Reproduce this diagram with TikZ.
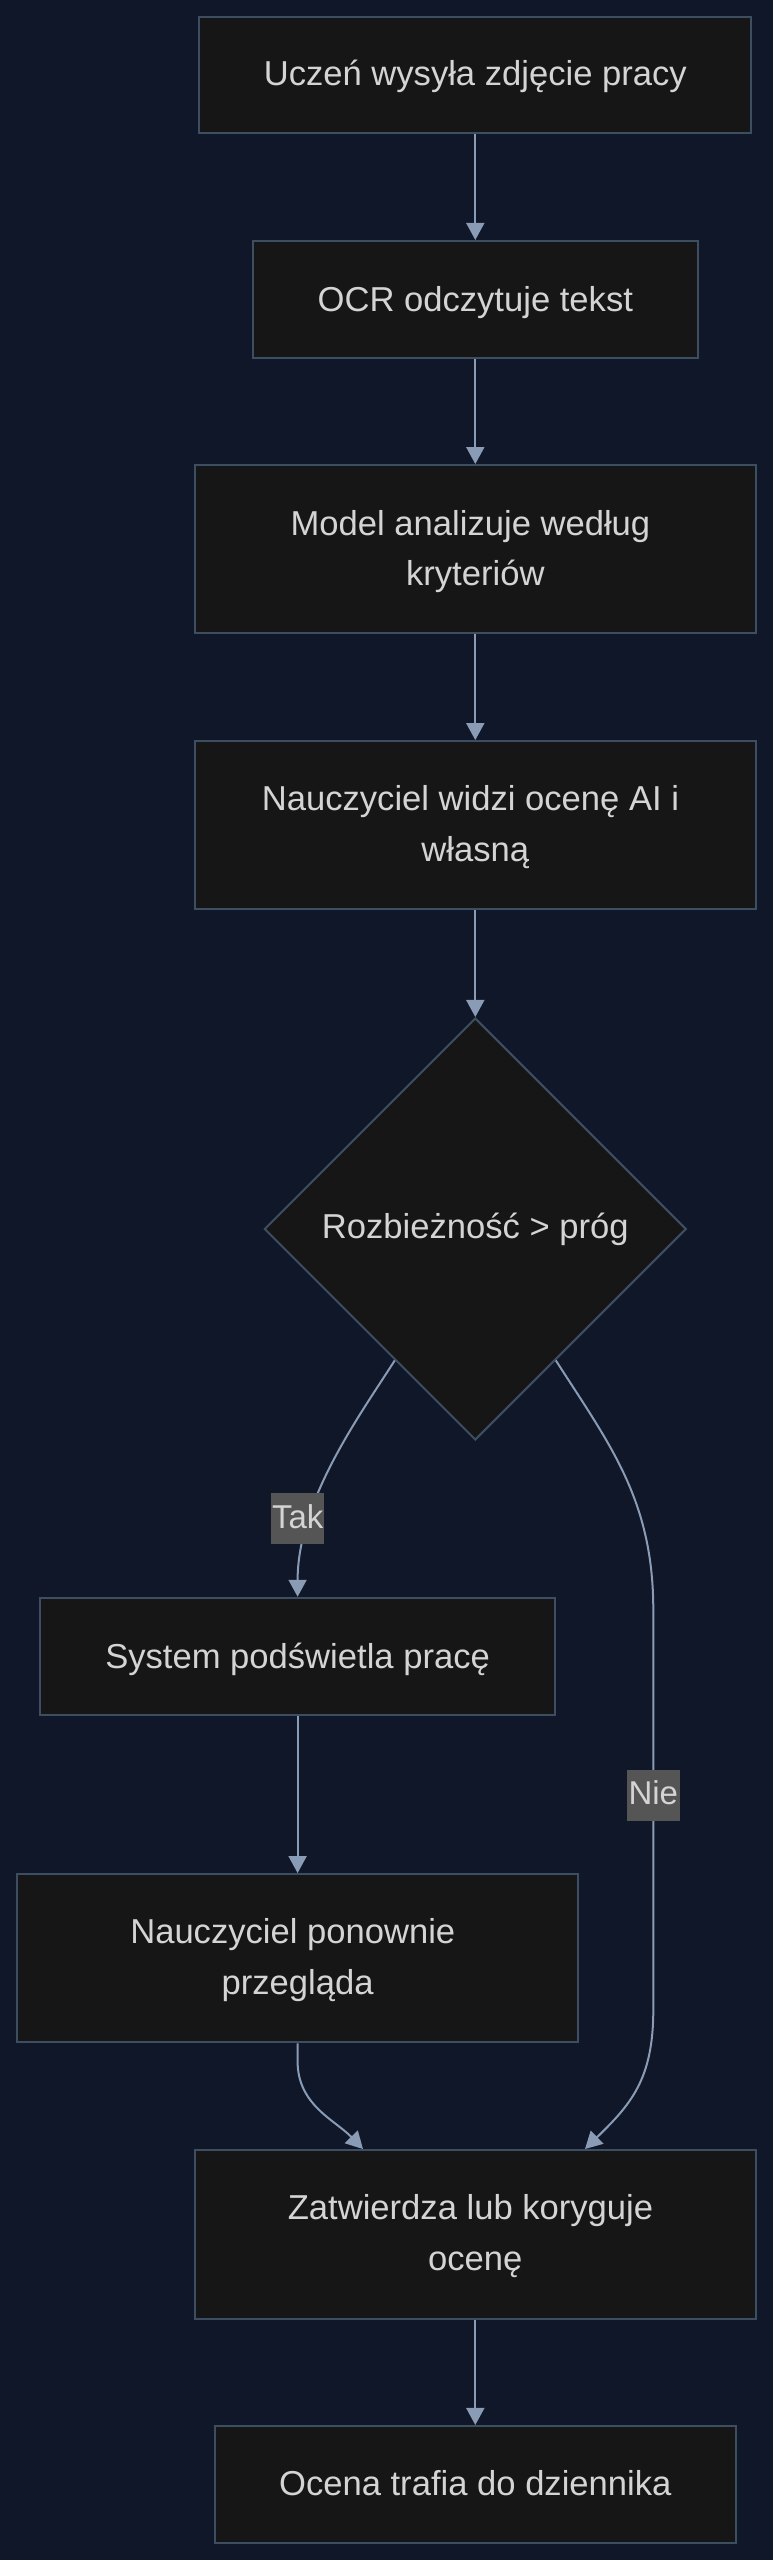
\documentclass[tikz,border=0pt]{standalone}
\usepackage{fontspec}
\setmainfont{Liberation Sans}
\usetikzlibrary{arrows.meta,shapes.geometric,calc}
\definecolor{bgc}{RGB}{15,23,41}
\definecolor{nodefill}{RGB}{22,22,22}
\definecolor{nodeborder}{RGB}{62,78,98}
\definecolor{edgec}{RGB}{138,155,182}
\definecolor{txtc}{RGB}{212,212,212}
\definecolor{lblbg}{RGB}{85,85,85}
\begin{document}
\begin{tikzpicture}[x=1pt,y=-1pt,
  box/.style={draw=nodeborder, fill=nodefill, line width=2pt, rectangle, inner sep=0pt},
  dia/.style={draw=nodeborder, fill=nodefill, line width=2pt, diamond, aspect=1, inner sep=0pt, minimum width=422pt, minimum height=422pt},
  txt/.style={text=txtc, anchor=base, font=\fontsize{34.6}{40}\selectfont, inner sep=0pt},
  lbl/.style={fill=lblbg, text=txtc, inner sep=0pt, minimum width=53pt, minimum height=51pt, text height=19pt, text depth=0pt, font=\fontsize{33}{40}\selectfont},
  edge/.style={draw=edgec, line width=2pt, -{Triangle[length=17pt,width=18pt]}},
]
\fill[bgc] (0,0) rectangle (773,2560);
\useasboundingbox (0,0) rectangle (773,2560);

\coordinate (x585) at (585,0);
\coordinate (x363) at (363,0);

% boxes
\node[box, minimum width=552pt, minimum height=116pt] (n1) at (475.3,75.2) {};
\node[box, minimum width=444.4pt, minimum height=116.7pt] (n2) at (475.3,299.3) {};
\node[box, minimum width=561.6pt, minimum height=168.3pt] (n3) at (475.3,549.2) {};
\node[box, minimum width=561.6pt, minimum height=168.3pt] (n4) at (475.3,825.2) {};
\node[dia] (d) at (475.3,1229) {};
\node[box, minimum width=514.3pt, minimum height=117.3pt] (n5) at (297.6,1656.4) {};
\node[box, minimum width=560.7pt, minimum height=168.3pt] (n6) at (297.6,1958.2) {};
\node[box, minimum width=560.7pt, minimum height=169pt] (n7) at (475.3,2234.5) {};
\node[box, minimum width=521.2pt, minimum height=116.7pt] (n8) at (475.3,2484.3) {};

% texts
\node[txt] (t1) at (475.3,85.5) {Uczeń wysyła zdjęcie pracy};
\node[txt] (t2) at (475.3,311) {OCR odczytuje tekst};
\node[txt] (t3a) at (470.5,535.5) {Model analizuje według};
\node[txt] (t3b) at (475.3,585.7) {kryteriów};
\node[txt] (t4a) at (470.5,810) {Nauczyciel widzi ocenę AI i};
\node[txt] (t4b) at (475.3,861.7) {własną};
\node[txt] (td) at (475.3,1238.5) {Rozbieżność > próg};
\node[txt] (t5) at (297.6,1668) {System podświetla pracę};
\node[txt] (t6a) at (292.8,1943.3) {Nauczyciel ponownie};
\node[txt] (t6b) at (297.6,1994) {przegląda};
\node[txt] (t7a) at (470.5,2219) {Zatwierdza lub koryguje};
\node[txt] (t7b) at (475.3,2270.7) {ocenę};
\node[txt] (t8) at (475.3,2495) {Ocena trafia do dziennika};

% edges
\draw[edge] (n1) -- (n2);
\draw[edge] (n2) -- (n3);
\draw[edge] (n3) -- (n4);
\draw[edge] (n4) -- (d);
\draw[edge] ($(d.west)!0.62!(d.south)$) .. controls (360,1415) and (297.6,1500) .. (n5.north);
\draw[edge] ($(d.east)!0.62!(d.south)$) .. controls (610,1445) and (653.3,1500) .. (653.3,1610) -- (653.3,2010) .. controls (653.3,2080) and (630,2105) .. (n7.north -| x585);
\draw[edge] (n5) -- (n6);
\draw[edge] (n6.south) -- ++(0,18) .. controls (297.6,2105) and (335,2120) .. (n7.north -| x363);
\draw[edge] (n7) -- (n8);

% edge labels
\node[lbl] (tak) at (297.7,1518.8) {Tak};
\node[lbl] (nie) at (653.3,1795) {Nie};
\end{tikzpicture}
\end{document}
